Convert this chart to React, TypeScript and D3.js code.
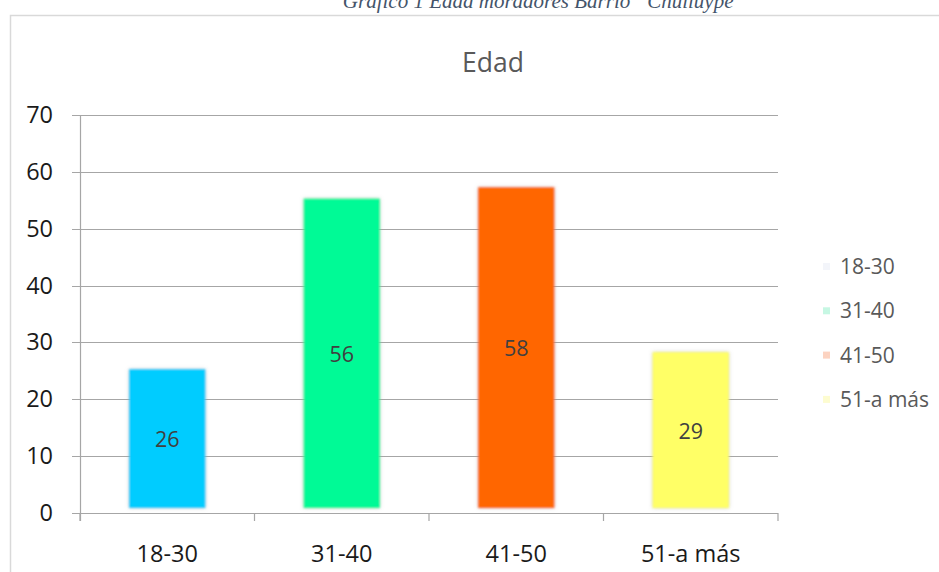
import React from "react";
import * as d3 from "d3";

const categories = ["18-30", "31-40", "41-50", "51-a más"];
const values = [26, 56, 58, 29];
const barColors = ["#00ccff", "#00fa96", "#ff6600", "#ffff66"];
const legendColors = ["#f3f5fa", "#c6f7e3", "#fcd3c1", "#fdfcd0"];
const yTicks = [0, 10, 20, 30, 40, 50, 60, 70];
const chartTitle = "Edad";
const caption = "Gráfico 1 Edad moradores Barrio “Chulluype”";

export default function App() {
  const W = 939, H = 572;
  const left = 80, right = 778, top = 115, bottom = 513;
  const x = d3.scaleBand<string>().domain(categories).range([left, right]).paddingInner(0.54).paddingOuter(0.27);
  const y = d3.scaleLinear().domain([0, 70]).range([bottom, top]);
  const step = (right - left) / categories.length;
  const font = "'Open Sans', 'Noto Sans', sans-serif";
  return (
    <svg width={W} height={H} style={{ position: "absolute", left: 0, top: 0, background: "#fff" }} fontFamily={font}>
      <defs>
        <filter id="soft" x="-20%" y="-20%" width="140%" height="140%">
          <feGaussianBlur in="SourceAlpha" stdDeviation="2" result="b" />
          <feFlood floodColor="#999" floodOpacity="0.45" />
          <feComposite in2="b" operator="in" result="shadow" />
          <feGaussianBlur in="SourceGraphic" stdDeviation="0.8" result="g" />
          <feMerge>
            <feMergeNode in="shadow" />
            <feMergeNode in="g" />
          </feMerge>
        </filter>
      </defs>
      <text x={544} y={8} textAnchor="middle" fontFamily="'Liberation Serif', 'DejaVu Serif', serif" fontStyle="italic" fontSize={21} fill="#44546a">{caption}</text>
      <path d={`M10.5,${H} V15.5 H${W}`} fill="none" stroke="#d9d9d9" strokeWidth={1.5} />
      <text x={493} y={72} textAnchor="middle" fontSize={26.5} fill="#595959">{chartTitle}</text>
      {yTicks.map(t => (
        <g key={t}>
          <line x1={left - 8} x2={right} y1={Math.round(y(t)) + 0.5} y2={Math.round(y(t)) + 0.5} stroke="#a6a6a6" strokeWidth={1.2} />
          <text x={53} y={y(t) + 8} textAnchor="end" fontSize={23.5} fill="#1a1a1a">{t}</text>
        </g>
      ))}
      <line x1={left + 0.5} x2={left + 0.5} y1={top} y2={bottom + 8} stroke="#a6a6a6" strokeWidth={1.2} />
      {d3.range(categories.length + 1).map(i => (
        <line key={i} x1={left + i * step} x2={left + i * step} y1={bottom} y2={bottom + 8} stroke="#a6a6a6" strokeWidth={1.2} />
      ))}
      {categories.map((c, i) => {
        const bx = x(c)! + 2;
        const bw = x.bandwidth() - 4;
        const by = y(values[i]) + 4;
        const bh = y(0) - 5 - by;
        return (
          <g key={c}>
            <rect x={bx} y={by} width={bw} height={bh} fill={barColors[i]} filter="url(#soft)" />
            <text x={x(c)! + x.bandwidth() / 2} y={(y(values[i]) + y(0)) / 2 + 8} textAnchor="middle" fontSize={21.5} fill="#404040">{values[i]}</text>
            <text x={left + (i + 0.5) * step} y={562} textAnchor="middle" fontSize={23.5} fill="#1a1a1a">{c}</text>
          </g>
        );
      })}
      {categories.map((c, i) => (
        <g key={"l" + c}>
          <rect x={823} y={263 + i * 44.3} width={7} height={7} fill={legendColors[i]} />
          <text x={840} y={274 + i * 44.3} fontSize={21} fill="#595959">{c}</text>
        </g>
      ))}
    </svg>
  );
}
